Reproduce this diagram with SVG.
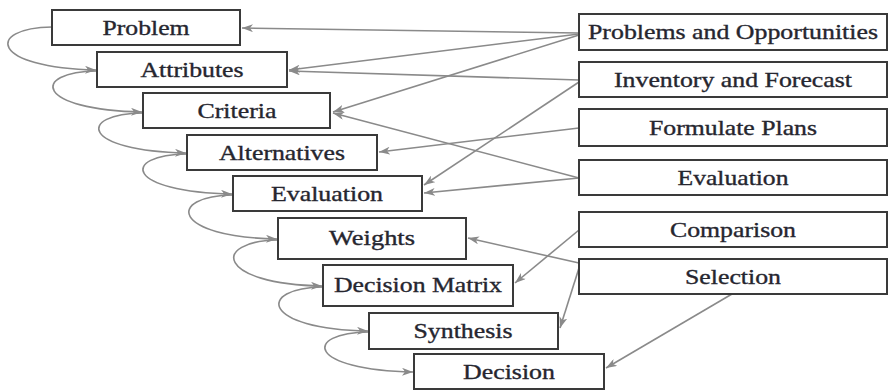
<svg xmlns="http://www.w3.org/2000/svg" width="889" height="392" viewBox="0 0 889 392">
  <defs>
    <marker id="arr" markerUnits="userSpaceOnUse" markerWidth="12" markerHeight="8" refX="11" refY="4" orient="auto">
      <path d="M0,0 L11,4 L0,8 L3,4 z" fill="#8a8a8a"/>
    </marker>
    <style>
      .box { fill: #ffffff; stroke: #3a3a3a; stroke-width: 2; }
      .lbl { font-family: "Liberation Serif", "Times New Roman", serif; font-size: 21px; fill: #26262f; stroke: #26262f; stroke-width: 0.35; text-anchor: middle; }
      .con { fill: none; stroke: #8a8a8a; stroke-width: 1.6; marker-end: url(#arr); }
    </style>
  </defs>
  <rect width="889" height="392" fill="#ffffff"/>

  <!-- connectors -->
  <g id="connectors">
    <!-- chain of steps on the left -->
    <path class="con" d="M52,27 C-15,28 -10,68 96,70"/>
    <path class="con" d="M97,71 C30,72 35,110 142,112"/>
    <path class="con" d="M143,113 C76,114 81,151 186,153"/>
    <path class="con" d="M187,154 C120,155 125,192 232,194"/>
    <path class="con" d="M233,195 C166,196 171,237 277,239"/>
    <path class="con" d="M278,240 C211,241 216,284 322,286"/>
    <path class="con" d="M323,287 C256,288 261,329 368,331"/>
    <path class="con" d="M369,332 C302,333 307,370 413,372"/>
    <!-- inputs from the right-hand activities -->
    <path class="con" d="M579,33 L242,28"/>
    <path class="con" d="M579,34 L289,70"/>
    <path class="con" d="M579,35 L333,112"/>
    <path class="con" d="M579,80 L289,71"/>
    <path class="con" d="M579,82 L424,185"/>
    <path class="con" d="M579,128 L379,152"/>
    <path class="con" d="M579,178 L333,113"/>
    <path class="con" d="M579,178 L424,193"/>
    <path class="con" d="M579,263 L468,238"/>
    <path class="con" d="M579,230 L515,283"/>
    <path class="con" d="M579,268 L560,328"/>
    <path class="con" d="M732,294 L606,368"/>
  </g>

  <!-- decision steps -->
  <g id="problem"><rect class="box" x="52" y="10" width="188" height="35"/><text class="lbl" x="146" y="35" textLength="87" lengthAdjust="spacingAndGlyphs">Problem</text></g>
  <g id="attributes"><rect class="box" x="97" y="52" width="190" height="35"/><text class="lbl" x="192" y="77" textLength="103" lengthAdjust="spacingAndGlyphs">Attributes</text></g>
  <g id="criteria"><rect class="box" x="143" y="93" width="187" height="35"/><text class="lbl" x="237" y="118" textLength="79" lengthAdjust="spacingAndGlyphs">Criteria</text></g>
  <g id="alternatives"><rect class="box" x="187" y="135" width="190" height="35"/><text class="lbl" x="282" y="160" textLength="126" lengthAdjust="spacingAndGlyphs">Alternatives</text></g>
  <g id="evaluation"><rect class="box" x="233" y="176" width="189" height="35"/><text class="lbl" x="327" y="201" textLength="112" lengthAdjust="spacingAndGlyphs">Evaluation</text></g>
  <g id="weights"><rect class="box" x="278" y="218" width="188" height="41"/><text class="lbl" x="372" y="245" textLength="86" lengthAdjust="spacingAndGlyphs">Weights</text></g>
  <g id="decision-matrix"><rect class="box" x="323" y="265" width="190" height="41"/><text class="lbl" x="418" y="292" textLength="168" lengthAdjust="spacingAndGlyphs">Decision Matrix</text></g>
  <g id="synthesis"><rect class="box" x="369" y="313" width="189" height="36"/><text class="lbl" x="463" y="338" textLength="99" lengthAdjust="spacingAndGlyphs">Synthesis</text></g>
  <g id="decision"><rect class="box" x="414" y="354" width="190" height="35"/><text class="lbl" x="509" y="379" textLength="92" lengthAdjust="spacingAndGlyphs">Decision</text></g>

  <!-- activities -->
  <g id="problems-opportunities"><rect class="box" x="579" y="14" width="308" height="36"/><text class="lbl" x="733" y="39" textLength="290" lengthAdjust="spacingAndGlyphs">Problems and Opportunities</text></g>
  <g id="inventory-forecast"><rect class="box" x="579" y="62" width="308" height="35"/><text class="lbl" x="733" y="87" textLength="238" lengthAdjust="spacingAndGlyphs">Inventory and Forecast</text></g>
  <g id="formulate-plans"><rect class="box" x="579" y="109" width="308" height="37"/><text class="lbl" x="733" y="135" textLength="168" lengthAdjust="spacingAndGlyphs">Formulate Plans</text></g>
  <g id="evaluation-activity"><rect class="box" x="579" y="160" width="308" height="35"/><text class="lbl" x="733" y="185" textLength="111" lengthAdjust="spacingAndGlyphs">Evaluation</text></g>
  <g id="comparison"><rect class="box" x="579" y="212" width="308" height="35"/><text class="lbl" x="733" y="237" textLength="126" lengthAdjust="spacingAndGlyphs">Comparison</text></g>
  <g id="selection"><rect class="box" x="579" y="259" width="308" height="35"/><text class="lbl" x="733" y="284" textLength="96" lengthAdjust="spacingAndGlyphs">Selection</text></g>
</svg>
